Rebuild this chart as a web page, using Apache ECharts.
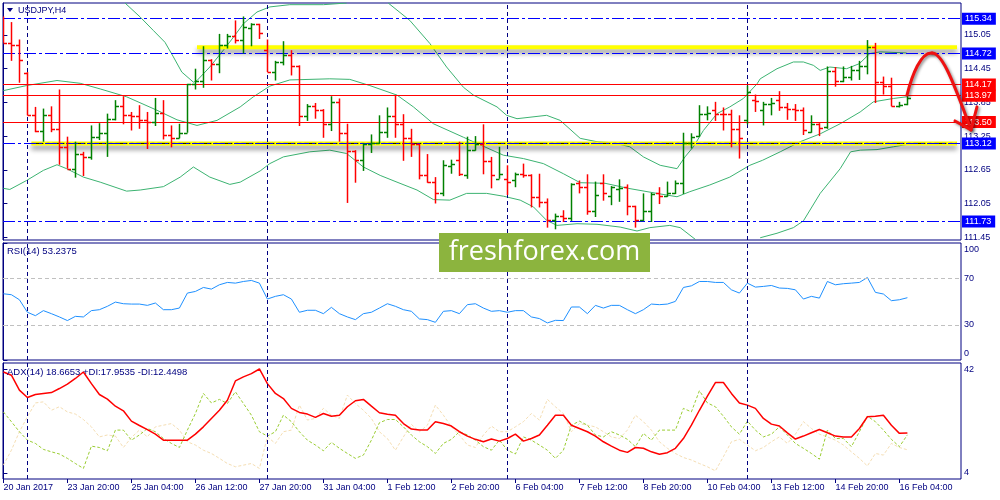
<!DOCTYPE html>
<html><head><meta charset="utf-8">
<script src="https://cdn.jsdelivr.net/npm/echarts@6/dist/echarts.min.js"></script>
<style>html,body{margin:0;padding:0;background:#fff}#c{width:1000px;height:500px}</style>
</head><body><div id="c"></div>
<script>
// ---------- data ----------
const tickLabels = ["20 Jan 2017","23 Jan 20:00","25 Jan 04:00","26 Jan 12:00","27 Jan 20:00","31 Jan 04:00","1 Feb 12:00","2 Feb 20:00","6 Feb 04:00","7 Feb 12:00","8 Feb 20:00","10 Feb 04:00","13 Feb 12:00","14 Feb 20:00","16 Feb 04:00"];
const barsPerTick = 8;

const barOpen = [115.10,114.91,114.88,114.37,113.63,113.34,113.62,113.38,113.06,112.67,
112.94,112.88,113.24,113.30,113.56,113.78,113.62,113.61,113.54,113.50,
113.66,113.27,113.22,113.31,114.17,114.23,114.61,114.53,114.87,115.04,
114.97,115.18,115.24,114.79,114.39,114.57,114.69,114.49,113.60,113.78,
113.71,113.47,113.86,113.30,112.99,112.82,113.11,113.13,113.32,113.60,
113.46,113.22,113.11,112.55,112.44,112.24,112.72,112.82,112.55,113.01,
113.11,112.81,112.49,112.49,112.47,112.57,112.55,112.16,112.07,111.75,
111.82,111.80,112.42,112.35,111.92,112.41,112.18,112.30,112.35,112.00,
111.75,111.92,112.23,112.18,112.24,112.41,113.13,113.25,113.64,113.71,
113.65,113.64,113.37,113.54,113.90,113.71,113.82,113.89,113.76,113.74,
113.72,113.32,113.47,113.41,114.41,114.24,114.31,114.42,114.49,114.84,
114.21,114.14,113.78,113.83];
const barHigh = [115.38,115.28,114.97,114.39,113.77,113.74,113.78,114.08,113.24,113.15,
112.97,113.44,113.48,113.65,113.89,113.96,113.68,113.80,113.68,113.93,
113.89,113.44,113.47,114.18,114.45,114.85,114.62,115.07,115.07,115.31,
115.38,115.26,115.25,114.97,114.59,114.94,114.78,114.51,113.82,113.84,
113.73,113.96,113.92,113.47,113.00,113.12,113.28,113.62,113.76,113.98,
113.64,113.38,113.11,112.93,112.52,112.82,112.83,113.15,113.24,113.25,
113.46,112.88,113.06,112.73,112.60,112.76,112.57,112.58,112.14,111.87,
111.93,112.41,112.46,112.57,112.44,112.57,112.36,112.48,112.39,112.01,
112.23,112.24,112.34,112.44,112.46,113.31,113.30,113.80,113.78,113.86,
113.76,113.72,113.62,114.15,113.99,113.86,113.93,114.05,113.84,113.82,
113.76,113.62,113.48,114.49,114.48,114.49,114.50,114.59,114.96,114.91,
114.31,114.29,113.86,113.97];
const barLow = [114.91,114.59,114.20,113.62,113.32,113.15,113.32,112.74,112.67,112.51,
112.54,112.83,113.18,112.88,113.53,113.46,113.35,113.38,113.02,113.43,
113.19,113.05,113.21,113.31,114.08,114.11,114.24,114.37,114.81,114.90,
114.72,114.85,114.98,114.39,114.24,114.51,114.33,113.43,113.52,113.56,
113.22,113.34,113.15,112.06,112.42,112.63,112.95,113.11,113.22,113.22,
112.81,112.88,112.48,112.42,112.05,112.18,112.58,112.54,112.49,112.99,
112.57,112.32,112.49,112.20,112.34,112.51,111.98,111.98,111.62,111.59,
111.72,111.74,112.23,111.85,111.81,112.10,112.02,112.08,111.84,111.62,
111.74,111.72,112.04,112.17,112.22,112.22,113.03,113.24,113.53,113.52,
113.35,113.05,112.85,113.46,113.68,113.44,113.62,113.70,113.54,113.52,
113.27,113.31,113.25,113.38,114.13,114.21,114.24,114.25,114.35,113.84,
113.99,113.78,113.76,113.80];
const barClose = [114.91,114.88,114.60,113.63,113.34,113.62,113.38,113.06,112.67,112.94,
112.88,113.24,113.30,113.56,113.78,113.62,113.61,113.54,113.50,113.66,
113.27,113.22,113.31,114.17,114.23,114.61,114.53,114.87,115.04,114.97,
115.20,115.25,115.09,114.39,114.57,114.69,114.49,113.60,113.78,113.71,
113.47,113.86,113.30,112.99,112.82,113.11,113.13,113.32,113.60,113.46,
113.22,113.11,112.55,112.44,112.24,112.73,112.75,112.57,113.01,113.11,
112.81,112.55,112.58,112.44,112.58,112.55,112.16,112.07,111.75,111.82,
111.80,112.39,112.34,111.92,112.20,112.23,112.34,112.32,112.00,111.75,
111.92,112.22,112.18,112.24,112.41,113.13,113.24,113.65,113.66,113.64,
113.64,113.37,113.22,114.04,113.87,113.83,113.84,113.76,113.74,113.72,
113.35,113.47,113.40,114.41,114.24,114.31,114.42,114.49,114.84,114.21,
114.14,113.78,113.80,113.93];

// Bollinger bands: [bar index, price]; null = band outside the pane
const bbUpper = [[15.2,115.62],[17.1,115.37],[18.75,115.13],[20.2,114.92],[21.25,114.66],[22.3,114.39],[23.75,114.21],[24.2,114.24],[25.8,114.48],[27.5,114.78],[28.75,115.01],[30,115.25],[31.7,115.46],[33.3,115.55],[35.8,115.59],[40,115.59],[42.9,115.62],[45,null],[48.1,115.62],[50.8,115.31],[53.3,114.90],[55.4,114.48],[57.5,114.12],[58.75,113.98],[61.7,113.77],[62.9,113.62],[64.2,113.56],[67.9,113.62],[69.6,113.53],[72.1,113.21],[74.2,113.15],[76.25,113.13],[78.3,113.06],[80,112.88],[82.1,112.73],[84.2,112.67],[85.2,112.88],[86.25,113.06],[87.5,113.35],[89.2,113.65],[90.8,113.77],[92.5,113.92],[94.2,114.18],[94.6,114.27],[96.7,114.45],[98.75,114.57],[100,114.57],[101.25,114.51],[102.1,114.42],[103.3,114.48],[105.4,114.45],[107,114.54],[108.3,114.72],[109.6,114.75],[112.9,114.73]];
const bbMiddle = [[0,114.06],[2.9,114.15],[6.7,114.24],[9.6,114.19],[12.1,114.09],[15.4,113.95],[19.2,113.71],[21.7,113.54],[24.2,113.44],[26.7,113.53],[29.6,113.77],[31.25,113.95],[33.3,114.14],[35.8,114.25],[40.8,114.27],[43.3,114.26],[45.8,114.15],[49.2,113.98],[51.25,113.77],[53.75,113.47],[57.5,113.23],[59.2,113.12],[62.5,112.91],[65,112.85],[67.5,112.76],[70,112.58],[72.1,112.42],[75.2,112.41],[78.1,112.32],[81.7,112.23],[84.2,112.17],[85.8,112.26],[88.3,112.38],[90.8,112.52],[93.3,112.73],[94.9,112.82],[97.1,112.97],[99.6,113.15],[102.1,113.29],[104.6,113.47],[107.1,113.68],[108.75,113.86],[111.25,113.92],[112.9,113.95]];
const bbLower = [[0,112.32],[0.8,112.30],[2.9,112.46],[5,112.64],[6.7,112.74],[7.9,112.67],[10,112.52],[12.1,112.43],[15.4,112.27],[17.1,112.29],[20,112.35],[22.1,112.52],[23.75,112.70],[25.8,112.52],[28.3,112.39],[29.6,112.43],[32.1,112.63],[33.3,112.76],[35,112.88],[38.3,112.97],[40.8,113.00],[42.9,112.94],[45,112.70],[47.1,112.55],[49.2,112.43],[51.7,112.29],[53.75,112.12],[55.8,112.11],[57.9,112.23],[60.4,112.23],[62.5,112.18],[64.6,112.11],[66.25,111.99],[67.9,111.75],[69.2,111.66],[71.7,111.69],[74.2,111.68],[77.1,111.63],[79.2,111.56],[80.8,111.62],[83.3,111.66],[84.6,111.62],[86.5,111.41],[90,null],[94.6,111.44],[96.7,111.52],[98.75,111.62],[100,111.74],[102.1,112.23],[104.6,112.67],[105.9,112.97],[107.1,113.00],[109.2,113.01],[111.25,113.06],[112.9,113.10]];

const rsiValues = [56.6,55.8,51.5,40.8,37.9,42.2,39.6,36.8,33.7,37.3,
36.8,42.2,43.0,45.9,49.5,48.1,47.8,47.8,46.7,48.7,
43.0,43.0,44.4,57.2,58.6,62.0,60.6,64.3,66.3,65.7,
67.1,68.0,65.7,52.1,54.4,55.8,52.1,40.8,42.5,42.5,
39.6,45.0,39.6,36.8,34.5,39.6,40.8,44.4,48.1,45.9,
43.0,41.6,35.1,34.5,32.2,41.6,42.2,39.6,47.3,48.1,
44.4,41.6,42.2,40.8,42.2,42.2,36.8,35.4,31.7,33.9,
33.7,45.3,45.3,39.6,46.7,44.4,46.7,46.7,43.0,39.6,
43.0,47.8,47.3,47.8,50.1,62.0,63.4,67.1,67.1,66.3,
66.3,60.0,57.2,65.7,62.3,62.9,63.7,61.5,61.2,60.0,
52.1,54.4,52.9,67.1,64.3,65.2,65.7,66.3,70.5,57.8,
56.4,50.7,51.5,53.24];
const adxValues = [41.1,39.9,34.4,31.7,32.8,33.2,33.5,35.0,36.6,38.7,
41.1,36.8,32.8,31.1,28.5,26.8,23.0,21.4,19.9,18.2,
16.0,16.0,16.0,16.0,18.2,20.9,24.0,27.0,30.7,37.8,
39.3,40.5,42.2,36.8,33.2,31.3,27.7,26.2,25.6,24.4,
25.8,24.8,25.2,28.3,30.5,31.0,28.5,26.1,25.5,25.2,
22.1,20.1,19.7,19.7,22.8,22.1,21.2,19.1,17.5,16.3,
15.4,16.4,15.65,16.6,18.2,15.65,16.6,17.9,21.5,25.2,
25.2,21.5,20.3,19.1,17.5,15.4,13.8,12.3,11.5,13.3,
13.0,11.7,10.8,11.4,13.0,16.6,21.5,27.0,32.2,37.2,
37.2,33.2,29.7,28.9,27.7,24.0,21.9,21.2,18.7,16.4,
17.5,18.7,19.9,18.7,17.5,17.2,17.2,20.3,24.6,24.8,
25.2,21.5,18.5,18.67];
const plusDI = [26.4,22.8,19.1,16.0,14.8,12.6,11.7,10.9,9.3,7.4,
5.6,13.8,13.3,12.1,19.7,19.7,16.0,17.9,20.3,19.1,
16.6,14.8,13.3,19.7,25.8,33.2,29.7,31.0,29.5,33.8,
29.5,25.2,19.1,17.5,19.1,25.2,22.8,19.1,16.0,14.2,
12.1,15.2,13.0,11.1,9.3,10.5,16.0,22.4,23.6,23.6,
20.9,17.9,15.4,13.6,11.1,14.8,16.3,19.1,17.9,16.0,
13.6,12.3,16.0,12.3,10.9,17.2,16.0,14.2,12.3,9.3,
12.3,21.5,23.0,21.5,17.9,17.2,19.1,17.9,16.3,13.6,
18.5,16.0,19.7,19.7,19.7,27.7,26.4,34.2,29.7,28.3,
24.8,20.9,18.2,23.0,19.7,17.2,18.2,20.9,17.9,14.8,
13.0,11.1,9.0,19.7,16.6,16.6,13.6,19.1,24.8,22.8,
19.7,16.3,13.6,17.95];
const minusDI = [6.8,12.3,19.1,24.6,29.7,30.1,27.0,28.3,26.4,25.6,
23.6,20.9,17.2,17.9,17.5,13.3,17.0,19.7,17.2,20.9,
21.5,22.1,19.7,15.4,14.2,12.3,11.1,9.3,7.4,6.2,
6.8,7.4,5.6,17.2,14.8,19.1,19.7,28.9,23.4,24.0,
27.7,25.2,24.0,32.6,29.5,27.0,24.0,19.1,16.6,12.3,
17.2,21.8,19.1,21.5,28.9,25.2,20.9,17.9,14.2,13.3,
17.9,21.2,19.1,19.1,20.9,22.8,25.8,23.4,31.0,28.3,
25.8,19.1,22.1,21.5,20.9,19.1,17.2,16.6,19.7,25.2,
22.8,19.7,15.4,13.0,11.1,9.6,8.7,7.4,6.2,4.7,
9.9,15.4,16.3,14.2,12.1,13.3,15.4,17.2,14.8,18.2,
22.8,20.3,18.2,17.2,16.0,14.2,11.7,9.3,6.5,11.1,
10.5,14.8,13.3,12.45];

const blueLevels = [115.34, 114.72, 113.12, 111.73];
const redLevels = [114.17, 113.97, 113.50];
const zoneLevels = [114.83, 113.12];
const zoneStart = [24.2, 3.5];
const zoneDashed = [false, true];
const zoneEnd = 119.2;
const weekSeparators = [3, 33, 63, 93];
const priceTicks = [115.05, 114.45, 113.85, 113.25, 112.65, 112.05, 111.45];
const rsiTicks = [100, 70, 30, 0];
const rsiLevels = [70, 30];
const adxTicks = [42, 4];
// hand-drawn forecast arrow, in [bar index, price]
const arrowCurve = [[112.95,113.98],[113.58,114.34],[114.7,114.75],[116.08,114.73],[117.2,114.73],[118.33,114.39],[120.95,113.36]];
const arrowHead = [[118.95,113.52],[120.95,113.36],[121.7,113.77]];

// ---------- chart ----------
const FONT = '"Liberation Sans", Arial, sans-serif';
const NAVY = '#000080';
const XMIN = -0.05, XMAX = 119.7;
const tickPos = tickLabels.map((_, k) => k * barsPerTick);
const ohlc = barOpen.map((o, i) => [i, o, barClose[i], barLow[i], barHigh[i]]);
const idx = arr => arr.map((v, i) => [i, v]);

const chart = echarts.init(document.getElementById('c'), null, {width: 1000, height: 500});

function renderBar(params, api) {
  const i = api.value(0), o = api.value(1), c = api.value(2), l = api.value(3), h = api.value(4);
  const pO = api.coord([i, o]), pC = api.coord([i, c]), pL = api.coord([i, l]), pH = api.coord([i, h]);
  const x = Math.round(pO[0]) + 0.5;
  const col = c > o ? '#008000' : '#ff0000';
  const st = {stroke: col, lineWidth: 1.5};
  const yo = Math.round(pO[1]) + 0.5, yc = Math.round(pC[1]) + 0.5;
  return {type: 'group', children: [
    {type: 'line', shape: {x1: x, y1: pH[1], x2: x, y2: pL[1]}, style: st},
    {type: 'line', shape: {x1: x - 3.5, y1: yo, x2: x, y2: yo}, style: st},
    {type: 'line', shape: {x1: x, y1: yc, x2: x + 3.5, y2: yc}, style: st}
  ]};
}

const boxLabel = (v, bg) => ({show: true, position: 'end', formatter: v.toFixed(2), color: '#fff',
  backgroundColor: bg, padding: [2, 4, 1, 3], fontSize: 9, fontFamily: FONT, distance: 1});
const sepLines = weekSeparators.map(b => ({xAxis: b, lineStyle: {color: NAVY, type: [4, 3], width: 1}, label: {show: false}}));

const grids = [
  {left: 3, top: 3, width: 958, height: 237},
  {left: 3, top: 243, width: 958, height: 117},
  {left: 3, top: 363, width: 958, height: 116}
].map(g => Object.assign(g, {show: true, borderColor: NAVY, borderWidth: 1, backgroundColor: '#fff', containLabel: false, outerBoundsMode: 'none'}));

const xAxes = [0, 1, 2].map(g => ({
  gridIndex: g, type: 'value', min: XMIN, max: XMAX, show: g === 2,
  axisLine: {show: false}, splitLine: {show: false},
  axisTick: {show: true, customValues: tickPos, length: 4, lineStyle: {color: NAVY}},
  axisLabel: {show: true, customValues: tickPos, showMinLabel: true, showMaxLabel: true,
    formatter: v => tickLabels[Math.round(v / barsPerTick)] || '', align: 'left',
    color: NAVY, fontSize: 9, fontFamily: FONT, margin: 4}
}));

const yBase = {type: 'value', position: 'right', splitLine: {show: false},
  axisLine: {show: true, lineStyle: {color: NAVY}}};
const yAxes = [
  Object.assign({}, yBase, {gridIndex: 0, min: 111.40, max: 115.62,
    axisTick: {show: true, customValues: priceTicks, length: 4, lineStyle: {color: NAVY}},
    axisLabel: {customValues: priceTicks, formatter: v => v.toFixed(2), color: NAVY, fontSize: 9, fontFamily: FONT, margin: 3}}),
  Object.assign({}, yBase, {gridIndex: 1, min: 0, max: 100,
    axisTick: {show: true, customValues: rsiTicks, length: 4, lineStyle: {color: NAVY}},
    axisLabel: {customValues: rsiTicks, color: NAVY, fontSize: 9, fontFamily: FONT, margin: 3,
      formatter: v => v === 100 ? '{t|100}' : (v === 0 ? '{b|0}' : String(v)),
      rich: {t: {lineHeight: 22, verticalAlign: 'bottom', color: NAVY, fontSize: 9, fontFamily: FONT},
             b: {lineHeight: 22, verticalAlign: 'top', color: NAVY, fontSize: 9, fontFamily: FONT}}}}),
  Object.assign({}, yBase, {gridIndex: 2, min: 1.7, max: 44.4,
    axisTick: {show: true, customValues: adxTicks, length: 4, lineStyle: {color: NAVY}},
    axisLabel: {customValues: adxTicks, color: NAVY, fontSize: 9, fontFamily: FONT, margin: 3}})
];

const bbStyle = {color: '#3cb371', width: 1};
const series = [
  {type: 'line', xAxisIndex: 0, yAxisIndex: 0, data: [], z: 2, silent: true,
   markLine: {silent: true, symbol: ['none', 'none'], animation: false, precision: 2,
     data: [].concat(sepLines,
       redLevels.map(v => ({yAxis: v, lineStyle: {color: '#ff0000', type: 'solid', width: 1}, label: boxLabel(v, '#ff0000')})),
       blueLevels.map(v => ({yAxis: v, lineStyle: {color: '#0000ff', type: [12, 3, 3, 3], width: 1}, label: boxLabel(v, '#0000ff')})))}},
  {type: 'line', xAxisIndex: 0, yAxisIndex: 0, data: bbUpper, symbol: 'none', lineStyle: bbStyle, z: 3, silent: true, connectNulls: false},
  {type: 'line', xAxisIndex: 0, yAxisIndex: 0, data: bbMiddle, symbol: 'none', lineStyle: bbStyle, z: 3, silent: true},
  {type: 'line', xAxisIndex: 0, yAxisIndex: 0, data: bbLower, symbol: 'none', lineStyle: bbStyle, z: 3, silent: true, connectNulls: false}
];
zoneLevels.forEach((lv, k) => {
  series.push({type: 'line', xAxisIndex: 0, yAxisIndex: 0, data: [[zoneStart[k], lv], [zoneEnd, lv]], symbol: 'none', z: 4, silent: true,
    lineStyle: {color: '#ffff00', width: 4, shadowColor: 'rgba(0,0,0,0.45)', shadowBlur: 5, shadowOffsetY: 4}});
  if (zoneDashed[k]) series.push({type: 'line', xAxisIndex: 0, yAxisIndex: 0, data: [[zoneStart[k], lv], [zoneEnd, lv]], symbol: 'none', z: 4, silent: true,
    lineStyle: {color: '#000000', width: 1, type: [12, 3, 3, 3]}});
});
series.push({type: 'custom', xAxisIndex: 0, yAxisIndex: 0, data: ohlc, renderItem: renderBar,
  encode: {x: 0, y: [1, 2, 3, 4]}, clip: true, z: 5, silent: true});
series.push({type: 'line', xAxisIndex: 1, yAxisIndex: 1, data: idx(rsiValues), symbol: 'none', z: 3, silent: true,
  lineStyle: {color: '#1e90ff', width: 1},
  markLine: {silent: true, symbol: ['none', 'none'], animation: false,
    data: [].concat(sepLines, rsiLevels.map(v => ({yAxis: v, lineStyle: {color: '#c0c0c0', type: [4, 3], width: 1}, label: {show: false}})))}});
series.push({type: 'line', xAxisIndex: 2, yAxisIndex: 2, data: idx(minusDI), symbol: 'none', z: 3, silent: true,
  lineStyle: {color: '#f5deb3', width: 1, type: [3, 2]},
  markLine: {silent: true, symbol: ['none', 'none'], animation: false, data: sepLines}});
series.push({type: 'line', xAxisIndex: 2, yAxisIndex: 2, data: idx(plusDI), symbol: 'none', z: 3, silent: true,
  lineStyle: {color: '#9acd32', width: 1, type: [3, 2]}});
series.push({type: 'line', xAxisIndex: 2, yAxisIndex: 2, data: idx(adxValues), symbol: 'none', z: 4, silent: true,
  lineStyle: {color: '#ff0000', width: 1.5}});

chart.setOption({
  animation: false,
  backgroundColor: '#ffffff',
  grid: grids, xAxis: xAxes, yAxis: yAxes, series: series
});

// ---------- annotations ----------
const px = p => chart.convertToPixel({gridIndex: 0}, p);
const a = arrowCurve.map(px), h = arrowHead.map(px);
const arrowStyle = {fill: 'none', stroke: '#ee1111', lineWidth: 3, lineCap: 'round', lineJoin: 'round',
  shadowColor: 'rgba(0,0,0,0.45)', shadowBlur: 3, shadowOffsetX: 1.5, shadowOffsetY: 1.5};
const bez = (p0, c1, c2, p1) => ({type: 'bezierCurve', z: 102, silent: true,
  shape: {x1: p0[0], y1: p0[1], cpx1: c1[0], cpy1: c1[1], cpx2: c2[0], cpy2: c2[1], x2: p1[0], y2: p1[1]}, style: arrowStyle});

chart.setOption({graphic: [
  {type: 'polygon', z: 100, shape: {points: [[7, 8], [13, 8], [10, 12]]}, style: {fill: NAVY}},
  {type: 'text', z: 100, x: 18, y: 10.5, style: {text: 'USDJPY,H4', fill: NAVY, font: '9px ' + FONT, verticalAlign: 'middle'}},
  {type: 'text', z: 100, x: 7, y: 251.5, style: {text: 'RSI(14) 53.2375', fill: NAVY, font: '9.5px ' + FONT, verticalAlign: 'middle'}},
  {type: 'text', z: 100, x: 7, y: 372, style: {text: 'ADX(14) 18.6653 +DI:17.9535 -DI:12.4498', fill: NAVY, font: '9.5px ' + FONT, verticalAlign: 'middle'}},
  {type: 'rect', z: 100, shape: {x: 439, y: 233, width: 211, height: 39}, style: {fill: '#8cb43e'}},
  {type: 'text', z: 101, x: 544.5, y: 252, style: {text: 'freshforex.com', fill: '#ffffff', font: '27px "Open Sans", sans-serif', align: 'center', verticalAlign: 'middle'}},
  bez(a[0], a[1], a[2], a[3]),
  bez(a[3], a[4], a[5], a[6]),
  {type: 'polyline', z: 102, silent: true, shape: {points: h}, style: arrowStyle}
]});
</script>
</body></html>
